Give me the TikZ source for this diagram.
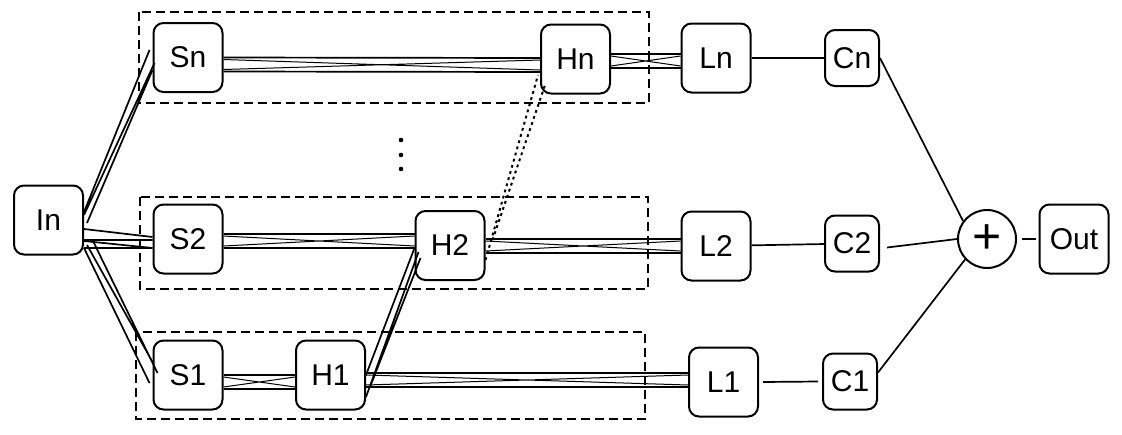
\documentclass[tikz,border=0pt]{standalone}
\usepackage{fontspec}
\setmainfont{Liberation Sans}

\newcommand{\bus}[4]{%
  \draw[link] ([yshift=#3]#1.east) -- ([yshift=#4]#2.west)
    ([yshift=#3-7pt]#1.east) -- ([yshift=#4-7pt]#2.west);
  \draw[thin link] ([yshift=#3-1pt]#1.east) -- ([yshift=#4-6pt]#2.west)
    ([yshift=#3-6pt]#1.east) -- ([yshift=#4-1pt]#2.west);
}

\begin{document}
\begin{tikzpicture}[x=0.5pt, y=-0.5pt,
  block/.style={rectangle, draw, rounded corners=5pt, line width=1pt, minimum width=34.5pt, minimum height=34.5pt, inner sep=0pt},
  cblock/.style={block, minimum width=27pt, minimum height=28pt},
  sumnode/.style={circle, draw, line width=1pt, minimum size=29pt, inner sep=0pt},
  group/.style={draw, line width=0.65pt, dash pattern=on 4.5pt off 2.5pt},
  link/.style={line width=0.85pt},
  thin link/.style={line width=0.5pt},
  dotlink/.style={line width=1pt, dash pattern=on 1.4pt off 1.8pt},
  font=\fontsize{15}{18}\selectfont]
  \useasboundingbox (0,0) rectangle (1122,434);

  \draw[group] (139,12) rectangle (649,103);
  \draw[group] (140,197) rectangle (648,289);
  \draw[group] (136,332) rectangle (645,419);

  \node[block] (In) at (48.5,220) {In};
  \node[block] (Sn) at (188,57.5) {Sn};
  \node[block] (S2) at (188,239) {S2};
  \node[block] (S1) at (188,375) {S1};
  \node[block] (H1) at (330.5,375) {H1};
  \node[block] (H2) at (450,245.5) {H2};
  \node[block] (Hn) at (575.5,59) {Hn};
  \node[block] (Ln) at (716,58) {Ln};
  \node[block] (L2) at (716,246) {L2};
  \node[block] (L1) at (723.5,382) {L1};
  \node[cblock] (Cn) at (852,58) {Cn};
  \node[cblock] (C2) at (852,243.5) {C2};
  \node[cblock] (C1) at (850,381.5) {C1};
  \node[sumnode] (sum) at (987,239) {\fontsize{25}{25}\selectfont +};
  \node[block] (Out) at (1074,239) {Out};

  \foreach \y in {140,155,169}
    \fill (401,\y) circle (1.15pt);

  \draw[link] ([yshift=4pt]In.east) -- ([xshift=-1.5pt,yshift=3.75pt]Sn.west)
    ([yshift=2.5pt]In.east) -- ([xshift=1pt,yshift=-2.75pt]Sn.west)
    ([xshift=1.5pt,yshift=-1.5pt]In.east) -- ([yshift=-6.25pt]Sn.west);
  \draw[link] ([yshift=-4.5pt]In.east) -- ([yshift=1pt]S2.west)
    ([yshift=-10pt]In.east) -- ([yshift=-0.5pt]S2.west)
    ([yshift=-10.5pt]In.east) -- ([yshift=-4.5pt]S2.west)
    ([yshift=-14pt]In.east) -- ([yshift=-4.5pt]S2.west);
  \draw[link] ([yshift=-14pt]In.east) -- ([xshift=-1.5pt,yshift=-4pt]S1.west)
    ([xshift=1.5pt,yshift=-12.5pt]In.east) -- ([yshift=6.5pt]S1.west)
    ([xshift=4.5pt,yshift=-10.5pt]In.east) -- ([xshift=2.5pt,yshift=1pt]S1.west);

  \bus{Sn}{Hn}{0pt}{0.5pt}
  \bus{Hn}{Ln}{2.5pt}{2pt}
  \bus{S2}{H2}{2.5pt}{5.75pt}
  \bus{H2}{L2}{3.25pt}{3.5pt}
  \bus{S1}{H1}{0pt}{0pt}
  \bus{H1}{L1}{1pt}{4.5pt}

  \draw[link] (H1.east) -- ([yshift=-1.25pt]H2.west)
    ([yshift=-11pt]H1.east) -- ([xshift=2pt,yshift=-3.25pt]H2.west)
    ([xshift=2pt,yshift=-6pt]H1.east) -- ([xshift=3pt,yshift=-6.25pt]H2.west);
  \draw[dotlink] ([yshift=-7.25pt]H2.east) -- ([xshift=-1pt,yshift=-8pt]Hn.west)
    ([xshift=3.5pt,yshift=2.75pt]H2.east) -- ([xshift=2.5pt,yshift=-13pt]Hn.west);

  \draw[link] (Ln) -- (Cn);
  \draw[link] (L2) -- (C2);
  \draw[link] ([xshift=2pt]L1.east) -- ([xshift=-2pt]C1.west);
  \draw[link] (Cn.east) -- (sum.143);
  \draw[link] ([xshift=3.5pt,yshift=-2pt]C2.east) -- (sum.west);
  \draw[link] ([yshift=4.5pt]C1.east) -- (sum.223);
  \draw[line width=1.1pt] ([xshift=2.5pt]sum.east) -- ([xshift=-1.5pt]Out.west);
\end{tikzpicture}
\end{document}
